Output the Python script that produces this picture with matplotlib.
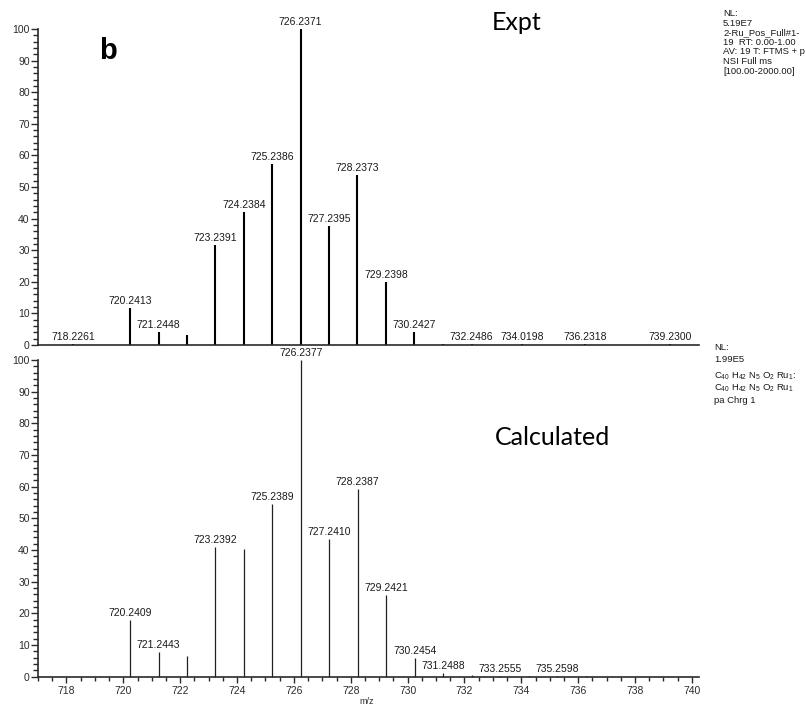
import numpy as np
import matplotlib
matplotlib.use('Agg')
import matplotlib.pyplot as plt
from matplotlib.ticker import MultipleLocator

plt.rcParams['font.family'] = ['Liberation Sans', 'DejaVu Sans']
plt.rcParams['mathtext.fontset'] = 'custom'
plt.rcParams['mathtext.rm'] = 'Liberation Sans'
plt.rcParams['mathtext.it'] = 'Liberation Sans:italic'

# experimental spectrum (relative abundance, %)
exptMz = [718.2261, 720.2413, 721.2448, 722.2380, 723.2391, 724.2384, 725.2386,
          726.2371, 727.2395, 728.2373, 729.2398, 730.2427, 731.2450,
          732.2486, 734.0198, 736.2318, 739.2300]
exptAbund = [0.3, 11.8, 4.0, 3.2, 31.6, 42.2, 57.4,
             100.0, 37.7, 53.7, 20.0, 4.0, 0.4,
             0.2, 0.2, 0.2, 0.2]
exptLabels = ['718.2261', '720.2413', '721.2448', '', '723.2391', '724.2384', '725.2386',
              '726.2371', '727.2395', '728.2373', '729.2398', '730.2427', '',
              '732.2486', '734.0198', '736.2318', '739.2300']

# calculated isotope pattern for C40H42N5O2Ru
calcMz = [720.2409, 721.2443, 722.2410, 723.2392, 724.2390, 725.2389, 726.2377,
          727.2410, 728.2387, 729.2421, 730.2454, 731.2488, 732.2520,
          733.2555, 734.2570, 735.2598, 736.2620]
calcAbund = [17.9, 7.9, 6.5, 40.9, 40.3, 54.4, 100.0,
             43.5, 59.3, 25.8, 5.8, 1.1, 0.4,
             0.3, 0.2, 0.2, 0.1]
calcLabels = ['720.2409', '721.2443', '', '723.2392', '', '725.2389', '726.2377',
              '727.2410', '728.2387', '729.2421', '730.2454', '731.2488', '',
              '733.2555', '', '735.2598', '']

exptInfo = ['NL:', '5.19E7', '2-Ru_Pos_Full#1-', '19  RT: 0.00-1.00',
            'AV: 19 T: FTMS + p', 'NSI Full ms', '[100.00-2000.00]']
calcInfo = ['NL:', '1.99E5',
            r'C$_{40}$ H$_{42}$ N$_{5}$ O$_{2}$ Ru$_{1}$:',
            r'C$_{40}$ H$_{42}$ N$_{5}$ O$_{2}$ Ru$_{1}$',
            'pa Chrg 1']

W, H = 806, 709
AXIS_COLOR = '#2a2a2a'


def px(x, y):
    return x / W, 1 - y / H


def styleAxis(ax, showX):
    ax.set_xlim(717.0, 740.25)
    ax.set_ylim(0, 100)
    for side in ['top', 'right']:
        ax.spines[side].set_visible(False)
    for side in ['left', 'bottom']:
        ax.spines[side].set_linewidth(1.2)
        ax.spines[side].set_color(AXIS_COLOR)
    ax.yaxis.set_major_locator(MultipleLocator(10))
    ax.yaxis.set_minor_locator(MultipleLocator(2))
    ax.tick_params(axis='y', which='major', length=5, width=1, pad=1,
                   labelsize=7.5, colors=AXIS_COLOR)
    ax.tick_params(axis='y', which='minor', length=3.5, width=1, colors=AXIS_COLOR)
    if showX:
        ax.xaxis.set_major_locator(MultipleLocator(2))
        ax.xaxis.set_minor_locator(MultipleLocator(0.5))
        ax.tick_params(axis='x', which='major', length=4.5, width=1, pad=2.5,
                       labelsize=7.5, colors=AXIS_COLOR)
        ax.tick_params(axis='x', which='minor', length=3, width=1, colors=AXIS_COLOR)
    else:
        ax.set_xticks([])


def drawSpectrum(ax, mz, abund, labels, lw, color):
    ax.vlines(mz, 0, abund, colors=color, linewidth=lw, clip_on=False)
    for m, a, lab in zip(mz, abund, labels):
        if lab:
            ax.annotate(lab, (m, a), xytext=(0, 1.5), textcoords='offset points',
                        ha='center', va='bottom', fontsize=7.5, color='#1a1a1a',
                        annotation_clip=False)


fig = plt.figure(figsize=(W / 100, H / 100), dpi=100)

axTop = fig.add_axes([38 / W, 1 - 345 / H, 661 / W, 316 / H])
axBot = fig.add_axes([38 / W, 1 - 676.7 / H, 661 / W, 316.7 / H])

styleAxis(axTop, False)
styleAxis(axBot, True)

drawSpectrum(axTop, exptMz, exptAbund, exptLabels, 1.5, 'black')
drawSpectrum(axBot, calcMz, calcAbund, calcLabels, 0.9, '#202020')

# axis title under the lower panel
fig.text(*px(367, 701), 'm/z', fontsize=6.5, color=AXIS_COLOR, ha='center', va='center')

# panel marks and titles
fig.text(*px(108, 51), 'b', fontsize=21, fontweight='bold', ha='center', va='center')
fig.text(*px(517, 23), 'Expt', fontsize=18, family='Lato', ha='center', va='center')
fig.text(*px(553, 437), 'Calculated', fontsize=18, family='Lato', ha='center', va='center')

# scan header text on the right
for y, line in zip([13, 23, 33, 42.5, 52, 61.7, 71.3], exptInfo):
    fig.text(*px(723, y), line, fontsize=6.8, ha='left', va='center', color='#1a1a1a')
for y, line in zip([348, 360, 376.5, 388.5, 400.5], calcInfo):
    fig.text(*px(714, y), line, fontsize=6.8, ha='left', va='center', color='#1a1a1a')

fig.savefig('out.png', dpi=100)
